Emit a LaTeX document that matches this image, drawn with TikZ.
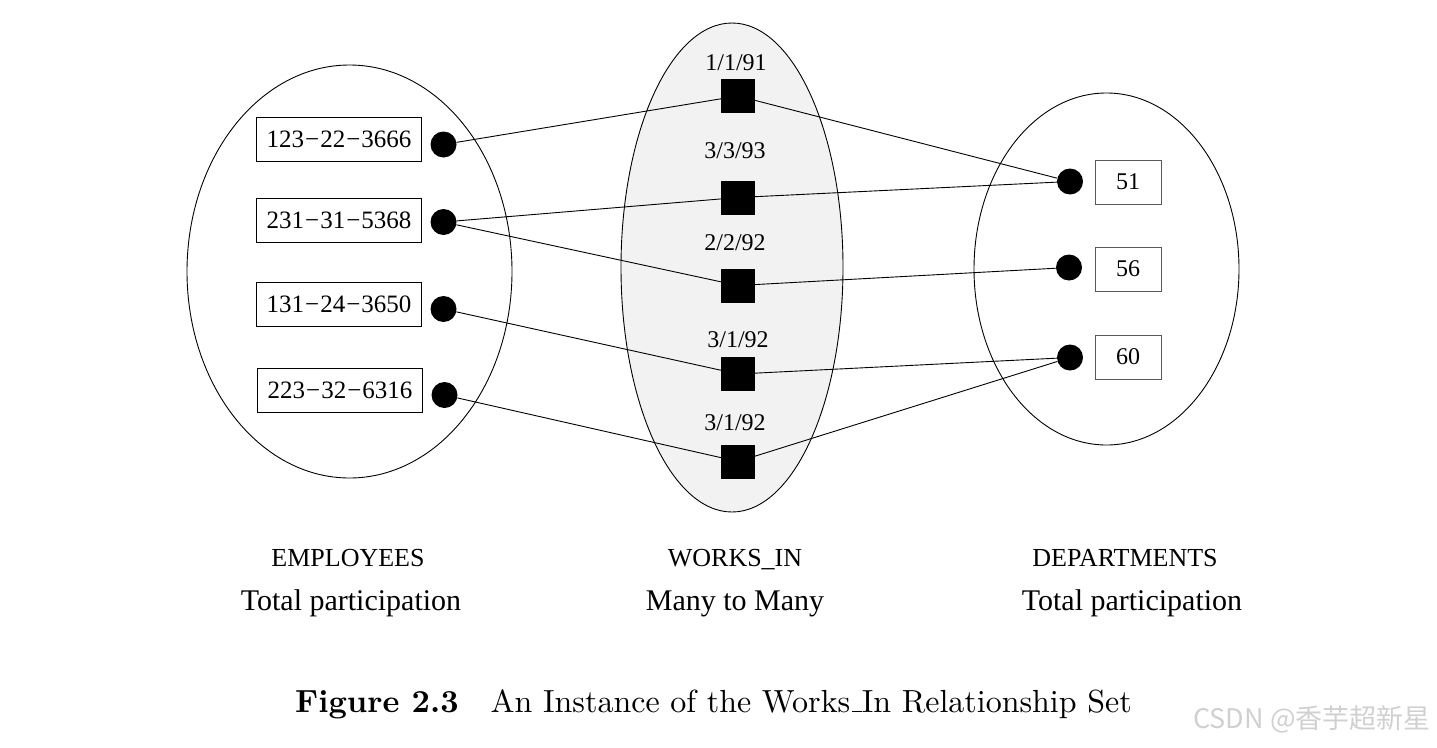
\documentclass[tikz,border=0pt]{standalone}
\usepackage{fontspec}
\usetikzlibrary{shapes.geometric}
\newfontfamily\tnr{Liberation Serif}
\newfontfamily\cjk{Noto Sans CJK SC}
\definecolor{setfill}{HTML}{F2F2F2}
\definecolor{wmark}{HTML}{D0D0D0}
\begin{document}
\begin{tikzpicture}[x=1pt,y=-1pt,
  setshape/.style={ellipse,draw,line width=0.9pt,inner sep=0pt},
  dotnode/.style={circle,fill=black,inner sep=0pt,minimum size=26pt},
  sqnode/.style={rectangle,fill=black,inner sep=0pt,minimum size=34pt},
  ebox/.style={rectangle,draw,line width=0.9pt,inner sep=0pt,minimum width=165pt,minimum height=44pt,font=\tnr\fontsize{25}{28}\selectfont},
  dbox/.style={rectangle,draw=black!65,line width=0.9pt,inner sep=0pt,minimum width=66pt,minimum height=44pt,font=\tnr\fontsize{24}{26}\selectfont},
  datelbl/.style={inner sep=0pt,font=\tnr\fontsize{24}{26}\selectfont},
  setname/.style={inner sep=0pt,anchor=base,font=\tnr\fontsize{26}{28}\selectfont},
  settag/.style={inner sep=0pt,anchor=base,font=\tnr\fontsize{30}{32}\selectfont},
  link/.style={line width=0.9pt}]
\useasboundingbox (0,0) rectangle (1437,747);
% sets
\node[setshape,minimum width=325pt,minimum height=413pt] (emp) at (349.5,271.5) {};
\node[setshape,fill=setfill,minimum width=222pt,minimum height=489pt] (wrk) at (732,267.5) {};
\node[setshape,minimum width=265pt,minimum height=352pt] (dep) at (1106.5,269) {};
% employee boxes
\newcommand{\ssn}[3]{#1\kern1pt−\kern1pt#2\kern1pt−\kern1pt#3}
\node[ebox] (b1) at (339,139) {\ssn{123}{22}{3666}};
\node[ebox] (b2) at (339,220) {\ssn{231}{31}{5368}};
\node[ebox] (b3) at (339,304) {\ssn{131}{24}{3650}};
\node[ebox] (b4) at (340,390) {\ssn{223}{32}{6316}};
% employee dots
\node[dotnode] (e1) at (443.5,144.5) {};
\node[dotnode] (e2) at (443.5,222) {};
\node[dotnode] (e3) at (443.5,309) {};
\node[dotnode] (e4) at (444.5,395) {};
% relationship squares
\node[sqnode] (s1) at (738,96) {};
\node[sqnode] (s2) at (738,197.5) {};
\node[sqnode] (s3) at (738,285.5) {};
\node[sqnode] (s4) at (738,374) {};
\node[sqnode] (s5) at (738,461.5) {};
\node[datelbl] (l1) at (736,63) {1/1/91};
\node[datelbl] (l2) at (735,151) {3/3/93};
\node[datelbl] (l3) at (735,243) {2/2/92};
\node[datelbl] (l4) at (738,340) {3/1/92};
\node[datelbl] (l5) at (735,423) {3/1/92};
% department dots and boxes
\node[dotnode] (d1) at (1070,181.5) {};
\node[dotnode] (d2) at (1069,267.5) {};
\node[dotnode] (d3) at (1070,357.5) {};
\node[dbox] (n1) at (1128,182) {51};
\node[dbox] (n2) at (1128,269) {56};
\node[dbox] (n3) at (1128,357) {60};
% links
\draw[link] (e1) -- (s1);
\draw[link] (s1) -- (d1);
\draw[link] (e2) -- (s2);
\draw[link] (s2) -- (d1);
\draw[link] (e2) -- (s3);
\draw[link] (s3) -- (d2);
\draw[link] (e3) -- (s4);
\draw[link] (s4) -- (d3);
\draw[link] (e4) -- (s5);
\draw[link] (s5) -- (d3);
% captions under sets
\node[setname] (t1) at (348,566) {EMPLOYEES};
\node[settag] (u1) at (351,610) {Total participation};
\node[setname] (t2) at (735,566) {WORKS\_IN};
\node[settag] (u2) at (735,610) {Many to Many};
\node[setname] (t3) at (1125,566) {DEPARTMENTS};
\node[settag] (u3) at (1132,610) {Total participation};
% figure caption
\node[inner sep=0pt] (cap) at (713.5,704) {\scalebox{3.2}{\fontsize{10}{12}\selectfont\textbf{Figure 2.3}\quad An Instance of the Works\leavevmode\kern.06em\vbox{\hrule width.3em}In Relationship Set}};
% watermark
\node[inner sep=0pt,text=wmark,font=\cjk\fontsize{27}{30}\selectfont] (wm) at (1312,719) {CSDN @香芋超新星};
\end{tikzpicture}
\end{document}
